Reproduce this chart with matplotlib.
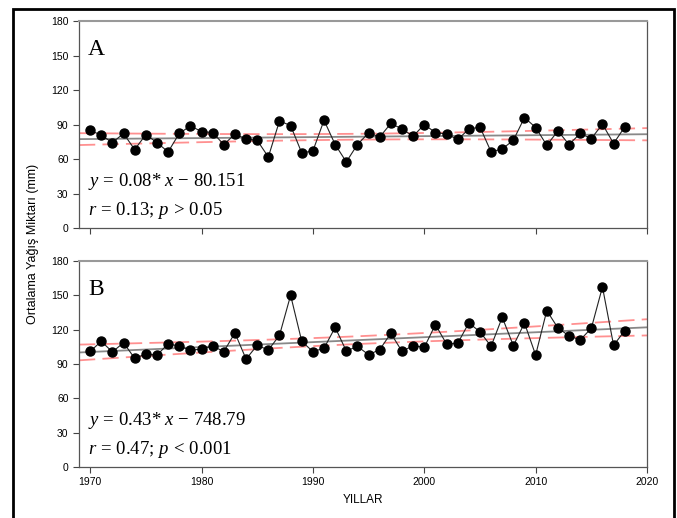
import numpy as np
import matplotlib
matplotlib.use('Agg')
import matplotlib.pyplot as plt
from matplotlib.patches import Rectangle

# ========================
# データ
# ========================
years = np.arange(1970, 2019)

rain_a = [85.0, 80.7, 74.3, 82.2, 68.2, 81.3, 74.3, 66.2, 82.2, 88.8,
          83.9, 83.0, 72.6, 81.6, 77.5, 76.2, 61.8, 93.1, 89.1, 65.3,
          67.0, 93.7, 72.6, 57.5, 72.6, 82.7, 79.2, 90.9, 86.2, 79.8,
          90.0, 83.0, 81.8, 77.0, 85.9, 87.9, 66.2, 68.8, 76.3, 96.1,
          87.4, 72.0, 84.4, 72.6, 82.2, 77.8, 90.3, 73.5, 87.9]

rain_b = [101.0, 109.8, 100.5, 108.6, 94.9, 98.7, 97.8, 107.5, 105.7, 101.9,
          103.1, 105.7, 100.8, 117.1, 94.3, 106.3, 102.2, 115.0, 150.0, 109.8,
          100.8, 103.7, 122.0, 101.3, 105.4, 98.1, 102.5, 116.8, 101.0, 106.0,
          104.5, 124.4, 107.5, 108.0, 125.8, 118.2, 105.4, 130.8, 106.0, 125.8,
          97.8, 136.6, 121.5, 114.5, 111.0, 121.2, 157.3, 106.3, 119.1]

panel_labels = ['A', 'B']
eq_texts = [r'$y\,=\,0.08{*}\;x\,-\,80.151$', r'$y\,=\,0.43{*}\;x\,-\,748.79$']
r_texts = [r'$r\,=\,0.13;\,p\,>\,0.05$', r'$r\,=\,0.47;\,p\,<\,0.001$']

yticks = [0, 30, 60, 90, 120, 150, 180]
xticks = [1970, 1980, 1990, 2000, 2010, 2020]

plt.rcParams['font.family'] = ['Liberation Sans', 'DejaVu Sans']
plt.rcParams['mathtext.fontset'] = 'custom'
plt.rcParams['mathtext.rm'] = 'Liberation Serif'
plt.rcParams['mathtext.it'] = 'Liberation Serif:italic'


# ========================
# 回帰直線と95%信頼区間
# ========================
def fit_band(x, y, xs):
    x = np.asarray(x, float)
    y = np.asarray(y, float)
    b, a = np.polyfit(x, y, 1)
    res = y - (a + b * x)
    n = len(x)
    s = np.sqrt(np.sum(res ** 2) / (n - 2))
    sxx = np.sum((x - x.mean()) ** 2)
    se = s * np.sqrt(1.0 / n + (xs - x.mean()) ** 2 / sxx)
    fit = a + b * xs
    return fit, fit - 2.012 * se, fit + 2.012 * se


fig = plt.figure(figsize=(6.77, 5.18), dpi=100)
ax_a = fig.add_axes([0.1167, 0.5598, 0.839, 0.3996])
ax_b = fig.add_axes([0.1167, 0.0985, 0.839, 0.3977])

xs = np.linspace(1969, 2020, 100)
for ax, vals, lab, eq, rt in zip([ax_a, ax_b], [rain_a, rain_b],
                                 panel_labels, eq_texts, r_texts):
    fit, lo, hi = fit_band(years, vals, xs)
    ax.plot(xs, fit, color='#888888', lw=1.3, zorder=2)
    ax.plot(xs, lo, color='#ff9090', lw=1.3, ls=(0, (9, 4)), zorder=2)
    ax.plot(xs, hi, color='#ff9090', lw=1.3, ls=(0, (9, 4)), zorder=2)
    ax.plot(years, vals, color='#222222', lw=0.8, marker='o', ms=6.5,
            mfc='black', mec='black', zorder=3)
    ax.set_xlim(1969, 2020)
    ax.set_ylim(0, 180)
    ax.set_yticks(yticks)
    ax.set_xticks(xticks)
    ax.tick_params(labelsize=7.5, length=4, width=0.8, color='#444444')
    for side in ['left', 'bottom', 'right']:
        ax.spines[side].set_color('#555555')
        ax.spines[side].set_linewidth(0.9)
    ax.spines['top'].set_color('#999999')
    ax.spines['top'].set_linewidth(1.5)
    ax.text(0.016, 0.835, lab, transform=ax.transAxes, fontsize=17,
            family='Liberation Serif', va='baseline')
    ax.text(0.016, 0.205, eq, transform=ax.transAxes, fontsize=13.5, va='baseline')
    ax.text(0.016, 0.062, rt, transform=ax.transAxes, fontsize=13.5, va='baseline')

ax_a.tick_params(labelbottom=False)
ax_b.set_xlabel('YILLAR', fontsize=8.5, labelpad=5)
fig.text(0.049, 0.53, 'Ortalama Yağış Miktarı (mm)', rotation=90,
         ha='center', va='center', fontsize=9)

# 外枠
fig.patches.append(Rectangle((13 / 677, -0.01), 661 / 677, 1 - 9 / 518 + 0.01,
                             transform=fig.transFigure, fill=False,
                             edgecolor='black', lw=2))

plt.savefig('out.png', dpi=100)
